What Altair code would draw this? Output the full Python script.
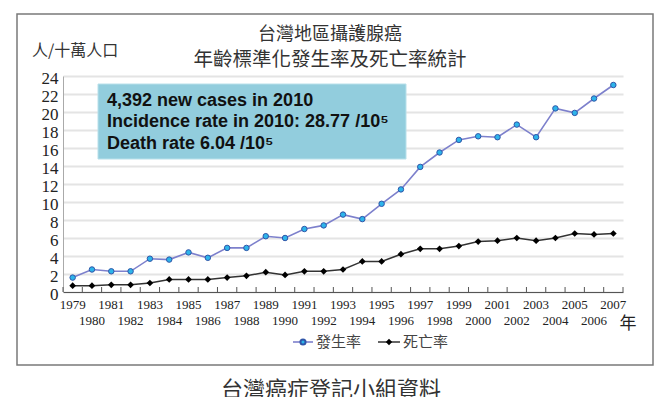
import altair as alt
import pandas as pd

years = list(range(1979, 2008))
incidence = [1.6, 2.5, 2.3, 2.3, 3.7, 3.6, 4.4, 3.8, 4.9, 4.9, 6.2, 6.0, 7.0, 7.4,
             8.6, 8.1, 9.8, 11.4, 13.9, 15.5, 16.9, 17.3, 17.2, 18.6, 17.2, 20.4,
             19.9, 21.5, 23.0]
death = [0.7, 0.7, 0.8, 0.8, 1.0, 1.4, 1.4, 1.4, 1.6, 1.8, 2.2, 1.9, 2.3, 2.3,
         2.5, 3.4, 3.4, 4.2, 4.8, 4.8, 5.1, 5.6, 5.7, 6.0, 5.7, 6.0, 6.5, 6.4, 6.5]
y_ticks = list(range(0, 25, 2))
series_names = ["發生率", "死亡率"]
title_lines = ["台灣地區攝護腺癌", "年齡標準化發生率及死亡率統計"]
note_lines = ["4,392 new cases in 2010",
              "Incidence rate in 2010: 28.77 /10⁵",
              "Death rate 6.04 /10⁵"]
unit_label = "人/十萬人口"
year_label = "年"
footer = "台灣癌症登記小組資料"

df = pd.DataFrame({"year": years, "inc": incidence, "death": death,
                   "label": [str(y) for y in years]})
df_odd = df[df.year % 2 == 1]
df_even = df[df.year % 2 == 0]
bounds = pd.DataFrame({"b": [y - 0.5 for y in years] + [years[-1] + 0.5]})

W, H = 560, 216
CJK = "Noto Sans CJK TC"
SERIF = "Liberation Serif"
xs = alt.Scale(domain=[1978.5, 2007.5], nice=False, zero=False)
ys = alt.Scale(domain=[0, 24], nice=False)
xaxis = alt.Axis(labels=False, ticks=False, grid=False, title=None,
                 domainColor="#555", domainWidth=1)
yaxis = alt.Axis(values=y_ticks, title=None, grid=True, gridColor="#e4e4e4",
                 gridWidth=2, ticks=False, domainColor="#aaa",
                 labelFont=SERIF, labelFontSize=17, labelColor="#222",
                 labelPadding=5, labelOffset=2)


def X(f):
    return alt.X(f, scale=xs, axis=xaxis)


def Y(f):
    return alt.Y(f, scale=ys, axis=yaxis)


base = alt.Chart(df)
one = pd.DataFrame({"a": [0]})

frame = alt.Chart(one).mark_rect(
    fill="white", fillOpacity=0, stroke="#7a7a7a", strokeWidth=1.5
).encode(x=alt.value(-46), x2=alt.value(590), y=alt.value(-62), y2=alt.value(289))

tick_rules = alt.Chart(bounds).mark_rule(color="#555", strokeWidth=1).encode(
    x=X("b:Q"), y=alt.value(H), y2=alt.value(H - 5))

box = alt.Chart(one).mark_rect(
    fill="#92cddd", stroke="#b8e0ea", strokeWidth=1
).encode(x=alt.value(35), x2=alt.value(343), y=alt.value(8), y2=alt.value(83))

note_layers = [
    alt.Chart(pd.DataFrame({"t": [t]})).mark_text(
        font="Liberation Sans", fontSize=18, fontWeight="bold", color="#111",
        align="left", baseline="middle"
    ).encode(x=alt.value(44), y=alt.value(yy), text="t:N")
    for t, yy in zip(note_lines, [25, 46, 68])
]

inc_line = base.mark_line(color="#7d80cc", strokeWidth=1.6).encode(
    x=X("year:Q"), y=Y("inc:Q"))
inc_pts = base.mark_point(shape="circle", filled=True, fill="#2db4ea", stroke="#2f55a8",
                          strokeWidth=1, size=30, opacity=1).encode(
    x=X("year:Q"), y=Y("inc:Q"))
d_line = base.mark_line(color="#333", strokeWidth=1.5).encode(
    x=X("year:Q"), y=Y("death:Q"))
d_pts = base.mark_point(shape="diamond", filled=True, color="#000", size=45,
                        opacity=1).encode(x=X("year:Q"), y=Y("death:Q"))

odd_lbl = alt.Chart(df_odd).mark_text(font=SERIF, fontSize=13, color="#222",
                                      baseline="middle").encode(
    x=X("year:Q"), y=alt.value(229), text="label:N")
even_lbl = alt.Chart(df_even).mark_text(font=SERIF, fontSize=13, color="#222",
                                        baseline="middle").encode(
    x=X("year:Q"), y=alt.value(245), text="label:N")


def txt(t, x, y, size, align="center", color="#333"):
    return alt.Chart(pd.DataFrame({"t": [t]})).mark_text(
        font=CJK, fontSize=size, color=color, align=align, baseline="middle"
    ).encode(x=alt.value(x), y=alt.value(y), text="t:N")


titles = [txt(title_lines[0], 267, -41, 18), txt(title_lines[1], 267, -16, 19.5),
          txt(unit_label, -31, -25, 16, align="left"),
          txt(year_label, 565, 248, 17, color="#222"),
          txt(footer, 268, 314, 22)]

leg = [
    alt.Chart(one).mark_rule(color="#7d80cc", strokeWidth=1.6).encode(
        x=alt.value(230), x2=alt.value(250), y=alt.value(266)),
    alt.Chart(one).mark_point(shape="circle", filled=True, fill="#2db4ea",
                              stroke="#2f55a8", size=26, opacity=1).encode(
        x=alt.value(240), y=alt.value(266)),
    txt(series_names[0], 253, 266, 15, align="left", color="#444"),
    alt.Chart(one).mark_rule(color="#333", strokeWidth=1.5).encode(
        x=alt.value(315), x2=alt.value(337), y=alt.value(266)),
    alt.Chart(one).mark_point(shape="diamond", filled=True, color="#000",
                              size=40, opacity=1).encode(
        x=alt.value(326), y=alt.value(266)),
    txt(series_names[1], 340, 266, 15, align="left", color="#444"),
]

chart = alt.layer(
    frame, tick_rules, inc_line, d_line, inc_pts, d_pts, box,
    *note_layers, odd_lbl, even_lbl, *titles, *leg
).properties(
    width=W, height=H,
    autosize=alt.AutoSizeParams(type="none"),
    padding={"left": 55, "top": 68, "right": 41, "bottom": 105},
    background="white",
).configure_view(stroke=None)

chart.save("out.html", embed_options={"renderer": "svg", "actions": False})
